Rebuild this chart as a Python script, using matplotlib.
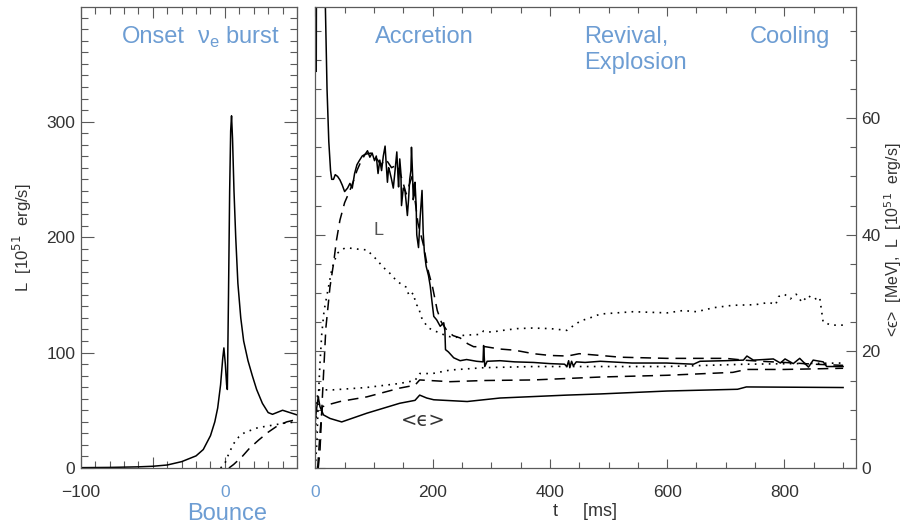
import numpy as np
import matplotlib
matplotlib.use("Agg")
import matplotlib.pyplot as plt
from matplotlib.ticker import MultipleLocator, FixedLocator, FixedFormatter

plt.rcParams['font.family'] = ['Liberation Sans', 'DejaVu Sans']
plt.rcParams['mathtext.fontset'] = 'dejavusans'

BLUE = '#6d9dd3'
AX = '#5a5a5a'
TXT = '#333333'

# ---------------- data: left panel (L, 10^51 erg/s vs t-bounce, ms) --------
t_nue_left = [-100, -80, -60, -50, -40, -30, -20, -15, -10, -7, -5, -3, -1.5, -0.7,
              0.3, 1.2, 1.7, 2.5, 3.3, 4.0, 4.6, 5.3, 6.3, 7.5, 9, 11, 13, 16, 19,
              22, 26, 30, 33, 36, 40, 45, 50]
L_nue_left = [0.3, 0.5, 1.0, 1.5, 2.6, 5.5, 10.5, 16, 28, 40, 52, 72, 95, 104,
              90, 72, 68, 150, 240, 292, 305, 285, 240, 200, 160, 130, 110, 93, 80,
              68, 56, 48, 46.5, 48, 50, 48, 46]
t_nux_left = [-3, 0, 2.8, 6, 9.7, 14, 18.8, 23, 28, 35, 42, 50]
L_nux_left = [0, 4, 12.7, 21, 27, 31, 33, 35, 36, 37.5, 39, 40]
t_anue_left = [2.8, 6, 11.9, 17, 23.4, 30, 37, 43, 50]
L_anue_left = [0, 3, 9.8, 17, 24.2, 31, 37, 40, 42]

# ---------------- data: right panel (t after bounce, ms) --------------------
t_Lnue = [0, 0.8, 1.6, 2.4, 4.6, 10, 14, 17, 20, 23, 26, 28, 31, 34, 38, 42, 46, 50,
          55, 59, 63, 67, 71, 75, 80, 85, 89, 93, 97, 101, 104, 107, 110, 113, 116,
          119, 121, 123, 125, 127, 130, 133, 136, 139, 141, 142, 144, 146, 147, 150,
          153, 155, 157, 159, 161, 163, 164, 166, 167, 169, 170, 172, 173, 176, 179,
          182, 184, 186, 189, 193, 196, 199, 202, 207, 213, 219, 221, 222, 227, 236,
          247, 258, 275, 286, 287, 289, 293, 315, 340, 372, 400, 425, 429, 432, 434,
          437, 440, 445, 460, 486, 540, 599, 645, 656, 700, 730, 736, 747, 765, 781,
          793, 801, 815, 826, 841, 849, 866, 872, 900]
L_nue = [100, 80, 68, 100, 300, 130, 95, 80, 65, 56, 51, 49.5, 49.5, 50.3, 50, 49.4,
         48.5, 47.4, 48, 48.8, 48, 50.5, 52, 52.7, 53.5, 53.8, 54.4, 53.3, 54, 52.7,
         53.5, 50.5, 52.8, 51, 53.5, 55.2, 52, 49, 51.5, 50.8, 49.5, 48, 51, 54.2,
         50, 48.2, 53, 50.5, 45, 48, 47.5, 45.5, 43.3, 46, 49.5, 51, 55, 50, 46, 47,
         49, 45, 40, 37.8, 43.3, 47.6, 40.3, 37, 34.6, 33, 31.2, 28.5, 26, 25.4, 24.3,
         24.9, 23.5, 20.3, 19.9, 18.9, 18.4, 18.6, 18.3, 18.2, 21, 17.4, 18.3, 18.4,
         18.2, 18.1, 17.9, 17.8, 17.4, 18.4, 17.2, 18.3, 17.5, 18.2, 18.1, 18.3, 18.0,
         18.0, 17.8, 18.3, 18.4, 18.5, 19.2, 18.5, 18.6, 18.7, 18.0, 18.7, 17.9,
         18.8, 17.3, 18.5, 18.2, 17.4, 17.4]

t_Lanue = [5, 8, 12, 18, 25, 31, 36, 42, 50, 59, 65, 71, 78, 85, 95, 105, 112, 120,
           130, 140, 148, 155, 160, 165, 170, 175, 180, 185, 192, 200, 208, 215, 225,
           235, 247, 260, 270, 290, 315, 340, 372, 400, 430, 450, 486, 520, 600, 700,
           730, 760, 800, 850, 900]
L_anue = [0, 3, 12, 24, 31, 35, 39, 42.5, 45.5, 47.6, 49.2, 51, 52.6, 53.8, 54, 53,
          52, 53, 51.5, 52, 49.5, 47, 48.5, 50, 46, 42, 40, 38, 34, 31, 27, 25, 23.5,
          22.7, 22.3, 21.3, 20.8, 20.8, 20.4, 20.2, 19.6, 19.3, 19.2, 19.6, 19.3,
          19.0, 18.8, 18.8, 18.5, 18.3, 18.1, 17.8, 17.6]

t_Lnux = [0, 3, 5, 8, 11, 15, 20, 28, 37, 50, 59, 75, 88, 97, 105, 115, 127, 135,
          144, 155, 160, 167, 172, 176, 180, 185, 193, 202, 215, 230, 240, 247, 260,
          280, 287, 300, 320, 344, 370, 401, 429, 440, 452, 470, 486, 542, 600, 627,
          650, 680, 712, 750, 774, 785, 790, 800, 810, 820, 830, 840, 850, 860, 866,
          880, 903]
L_nux = [0, 5, 11.7, 18, 23, 27, 29.7, 34, 36.8, 37.7, 37.7, 37.5, 37.4, 36.5, 35.7,
         34.5, 33.4, 32.5, 31.7, 31, 29.5, 30, 28, 27.7, 26, 25.1, 24, 23.6, 23,
         22.5, 22.4, 22.7, 22.8, 22.9, 23.5, 23.3, 23.6, 23.9, 24, 23.9, 23.6, 24.4,
         25.2, 25.8, 26.4, 26.8, 26.6, 27.0, 26.8, 27.5, 27.9, 28, 28.4, 28.0, 29.4,
         29.8, 29, 29.8, 28.4, 29.6, 28.9, 29.3, 25, 24.5, 24.5]

t_Enux = [0, 3, 6, 30, 87, 144, 170, 178, 200, 230, 287, 372, 486, 600, 735, 900]
E_nux = [5, 12, 13.4, 13.4, 13.8, 14.5, 15, 16.2, 16.2, 16.8, 17.2, 17.4, 17.4,
         17.4, 17.8, 18.0]

t_Eanue = [4, 8, 12, 20, 42, 88, 144, 170, 178, 230, 287, 372, 486, 600, 712, 735,
           800, 900]
E_anue = [0, 6, 10.5, 10.8, 11.4, 12.2, 13.7, 14.2, 15.1, 14.8, 15.0, 15.1, 15.6,
          15.9, 16.4, 16.9, 16.9, 17.1]

t_Enue = [0, 2, 5, 8, 14, 25, 45, 88, 144, 170, 178, 190, 202, 259, 315, 429, 486,
          600, 720, 735, 900]
E_nue = [8, 10, 12.2, 10.5, 9.1, 8.5, 7.9, 9.4, 11.1, 11.6, 12.5, 12, 11.7, 11.4,
         12.0, 12.5, 12.7, 13.2, 13.5, 13.9, 13.8]

# ---------------- figure ------------------------------------------------------
W, H = 908, 527
fig = plt.figure(figsize=(W / 100, H / 100), dpi=100)

def box(x0, x1, y0, y1):
    return [x0 / W, 1 - y1 / H, (x1 - x0) / W, (y1 - y0) / H]

axL = fig.add_axes(box(80.7, 297, 7.3, 468))
axR = fig.add_axes(box(315.3, 856, 7.3, 468))

solid = dict(color='black', lw=1.1, ls='-')
dashed = dict(color='black', lw=1.1, ls=(0, (7, 4.5)))
dotted = dict(color='black', lw=1.2, ls=(0, (1, 3.2)))

axL.plot(t_nue_left, L_nue_left, **solid)
axL.plot(t_nux_left, L_nux_left, **dotted)
axL.plot(t_anue_left, L_anue_left, **dashed)

axR.plot(t_Lnue, L_nue, **solid)
axR.plot(t_Lanue, L_anue, **dashed)
axR.plot(t_Lnux, L_nux, **dotted)
axR.plot(t_Enux, E_nux, **dotted)
axR.plot(t_Eanue, E_anue, **dashed)
axR.plot(t_Enue, E_nue, **solid)

# ---- axes styling
for ax in (axL, axR):
    for s in ax.spines.values():
        s.set_color(AX)
        s.set_linewidth(0.9)
    ax.tick_params(which='both', direction='in', top=True, right=True,
                   color=AX, width=0.8, labelcolor=TXT, labelsize=12.5)

axL.set_xlim(-100, 50)
axL.set_ylim(0, 399)
axL.xaxis.set_major_locator(FixedLocator([-100, -50, 0, 50]))
axL.xaxis.set_major_formatter(FixedFormatter(['\u2212100', '', '0', '']))
axL.xaxis.set_minor_locator(MultipleLocator(10))
axL.yaxis.set_major_locator(MultipleLocator(100))
axL.yaxis.set_minor_locator(MultipleLocator(10))
axL.tick_params(which='major', length=9.5)
axL.tick_params(which='minor', length=5)
axL.tick_params(axis='y', which='major', pad=4)
axL.tick_params(axis='x', which='major', length=8, pad=12)

axR.set_xlim(0, 922)
axR.set_ylim(0, 79)
axR.xaxis.set_major_locator(MultipleLocator(200))
axR.xaxis.set_minor_locator(MultipleLocator(50))
axR.yaxis.set_major_locator(MultipleLocator(20))
axR.yaxis.set_minor_locator(MultipleLocator(5))
axR.xaxis.set_major_formatter(plt.FuncFormatter(lambda v, p: f"{int(v)}"))
axR.tick_params(which='major', length=7.5)
axR.tick_params(which='minor', length=4.5)
axR.tick_params(axis='x', which='major', length=6.5, pad=12)
axR.tick_params(axis='y', which='major', labelleft=False, labelright=True, pad=4)

fig.canvas.draw()
for lab in axL.get_xticklabels():
    if lab.get_text() == '0':
        lab.set_color(BLUE)
for lab in axR.get_xticklabels():
    if lab.get_text() == '0':
        lab.set_color(BLUE)

# ---- annotations
def ftext(x, y, s, **kw):
    fig.text(x / W, 1 - y / H, s, **kw)

big = dict(color=BLUE, fontsize=17, ha='center', va='center')
ftext(153, 37, 'Onset', **big)
ftext(238, 37, r'ν$_{\mathregular{e}}$ burst', **big)
ftext(424, 37, 'Accretion', **big)
ftext(584, 37, 'Revival,', color=BLUE, fontsize=17, ha='left', va='center')
ftext(584, 63, 'Explosion', color=BLUE, fontsize=17, ha='left', va='center')
ftext(790, 37, 'Cooling', **big)
ftext(227, 514, 'Bounce', **big)

ftext(22, 238, r'L  [10$^{51}$  erg/s]', color=TXT, fontsize=12, rotation=90,
      ha='center', va='center')
ftext(893, 240, r'<ϵ>  [MeV],  L  [10$^{51}$  erg/s]', color=TXT, fontsize=11.5,
      rotation=90, ha='center', va='center')
ftext(585, 511, 't     [ms]', color=TXT, fontsize=13, ha='center', va='center')

axR.text(108.6, 40.8, 'L', color='#555555', fontsize=13, ha='center', va='center')
axR.text(183.6, 8.1, '<ϵ>', color='#333333', fontsize=14, ha='center', va='center',
         family=['DejaVu Sans'])

fig.savefig('out.png', dpi=100)
